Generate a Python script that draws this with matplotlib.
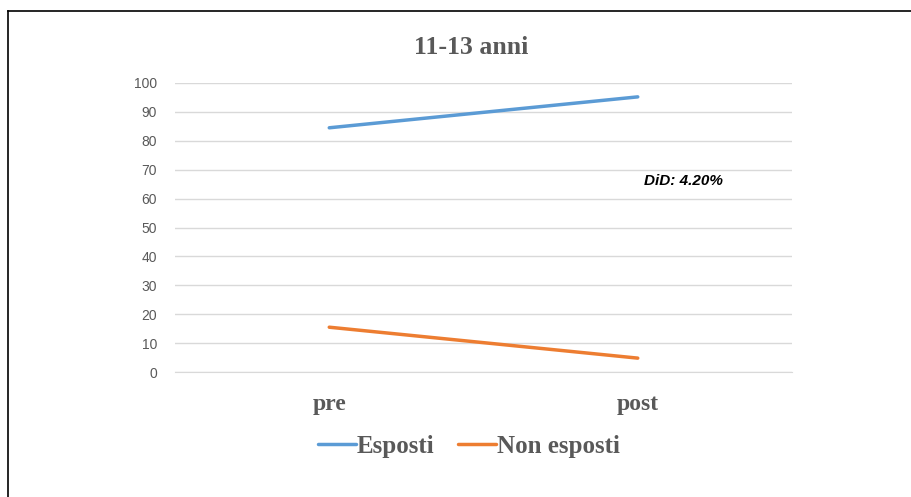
import matplotlib.pyplot as plt
from matplotlib.lines import Line2D

# dati
periodi = ['pre', 'post']
esposti = [84.5, 95.2]
non_esposti = [15.5, 4.8]
titolo = '11-13 anni'
did_testo = 'DiD: 4.20%'

blu = '#5b9bd5'
arancio = '#ed7d31'
grigio = '#595959'

fig = plt.figure(figsize=(9.12, 4.97), dpi=100)
ax = fig.add_axes([175 / 912, 1 - 372 / 497, 617 / 912, 289 / 497])

x = list(range(len(periodi)))
ax.plot(x, esposti, color=blu, lw=2.5, solid_capstyle='round', label='Esposti')
ax.plot(x, non_esposti, color=arancio, lw=2.5, solid_capstyle='round', label='Non esposti')

ax.set_xlim(-0.5, 1.5)
ax.set_ylim(0, 100)
ax.set_yticks(range(0, 101, 10))
ax.set_xticks(x)
ax.set_xticklabels(periodi, fontfamily='Liberation Serif', fontweight='bold',
                   fontsize=17, color=grigio)
for lab in ax.get_yticklabels():
    lab.set_fontfamily('Liberation Sans')
    lab.set_fontsize(10)
    lab.set_color(grigio)
ax.tick_params(axis='y', length=0, pad=13)
ax.tick_params(axis='x', length=0, pad=16)
ax.grid(axis='y', color='#d9d9d9', lw=1)
ax.set_axisbelow(True)
for s in ['top', 'right', 'left']:
    ax.spines[s].set_visible(False)
ax.spines['bottom'].set_color('#d9d9d9')

# titolo centrato sull'area del grafico
fig.text(471 / 912, 1 - 48 / 497, titolo, ha='center', va='center',
         fontfamily='Liberation Serif', fontweight='bold', fontsize=18.5, color=grigio)

ax.text(1.147, 66.1, did_testo, ha='center', va='center', fontsize=11,
        fontweight='bold', fontstyle='italic', fontfamily='Liberation Sans', color='black')

fig.legend(loc='center', bbox_to_anchor=(469 / 912, 1 - 446 / 497), ncol=2, frameon=False,
           prop={'family': 'Liberation Serif', 'weight': 'bold', 'size': 18},
           labelcolor=grigio, handlelength=1.5, handletextpad=0.05, columnspacing=0.95)

# cornice
fig.add_artist(Line2D([8.5 / 912, 8.5 / 912], [0, 1 - 11 / 497], color='black', lw=1.2,
                      transform=fig.transFigure))
fig.add_artist(Line2D([8.5 / 912, 1], [1 - 11 / 497, 1 - 11 / 497], color='black', lw=1.2,
                      transform=fig.transFigure))

fig.savefig('out.png', dpi=100)
